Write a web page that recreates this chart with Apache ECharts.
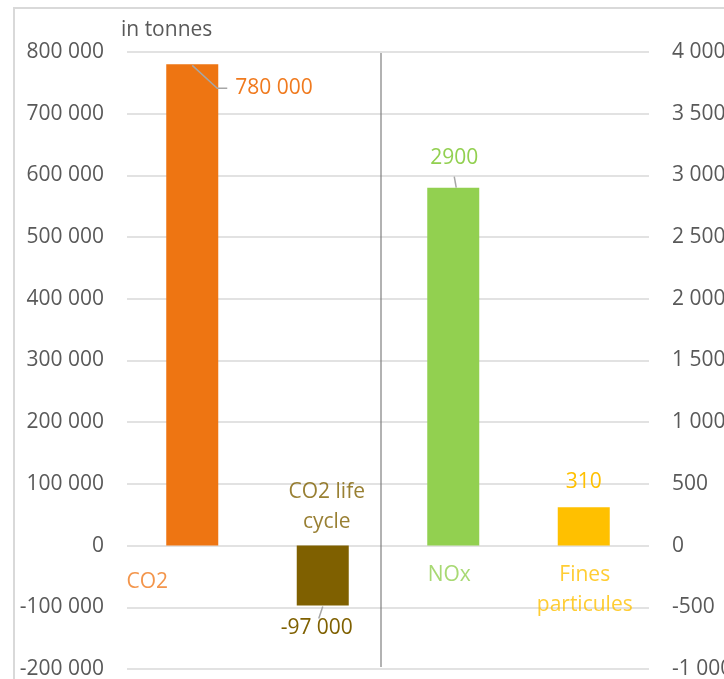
<!DOCTYPE html>
<html>
<head>
<meta charset="utf-8">
<script src="https://cdn.jsdelivr.net/npm/echarts@6/dist/echarts.min.js"></script>
<style>
  html, body { margin: 0; padding: 0; background: #ffffff; }
  #chart { width: 724px; height: 679px; }
</style>
</head>
<body>
<div id="chart"></div>
<script>
// Emissions, in tonnes: CO2 figures on the left scale, pollutants on the right scale
const categories = ['CO2', 'CO2 life cycle', 'NOx', 'Fines particules'];
const co2Values = [780000, -97000, null, null];       // left axis
const pollutantValues = [null, null, 2900, 310];      // right axis
const barColors = ['#EE7512', '#7F6000', '#92D050', '#FFC000'];
const labelColors = ['#F07A1E', '#7F6000', '#92D050', '#FFC000'];
const leftTicks = { min: -200000, max: 800000, interval: 100000 };
const rightTicks = { min: -1000, max: 4000, interval: 500 };

const FONT = '"Open Sans", "Liberation Sans", sans-serif';
const FS = 21;

function spaced(v) {
  const s = String(Math.abs(v)).replace(/\B(?=(\d{3})+(?!\d))/g, ' ');
  return (v < 0 ? '-' : '') + s;
}

// value label placement relative to each bar's rectangle
const valueLabelPos = [
  { position: [69, 24], align: 'left' },
  { position: [20, 82], align: 'center' },
  { position: [27, -30], align: 'center' },
  { position: [26, -25], align: 'center' }
];
// category name placement relative to the zero line at each category
const nameLabelOffset = [[-45, 36], [4, -39], [-4, 29], [1, 44]];

function barData(values) {
  return values.map((v, i) => v == null ? '-' : {
    value: v,
    itemStyle: { color: barColors[i] },
    label: {
      show: true,
      position: valueLabelPos[i].position,
      align: valueLabelPos[i].align,
      verticalAlign: 'middle',
      color: labelColors[i]
    }
  });
}

const nameData = categories.map((c, i) => ({
  value: [i, 0],
  label: {
    show: true,
    position: 'inside',
    offset: nameLabelOffset[i],
    formatter: i === 1 ? 'CO2 life\ncycle' : (i === 3 ? 'Fines\nparticules' : c),
    color: labelColors[i],
    align: 'center',
    verticalAlign: 'middle',
    lineHeight: 30
  }
}));

const chart = echarts.init(document.getElementById('chart'), null, { renderer: 'canvas' });

const option = {
  backgroundColor: '#ffffff',
  animation: false,
  textStyle: { fontFamily: FONT },
  title: {
    text: 'in tonnes',
    left: 121, top: 20, padding: 0,
    textStyle: { fontFamily: FONT, fontSize: FS, fontWeight: 'normal', color: '#595959' }
  },
  grid: { left: 127, right: 75, top: 52, bottom: 10, containLabel: false, outerBoundsMode: 'none' },
  xAxis: {
    type: 'category',
    data: categories,
    axisLine: { show: false },
    axisTick: { show: false },
    axisLabel: { show: false },
    splitLine: { show: false }
  },
  yAxis: [
    {
      type: 'value',
      min: leftTicks.min, max: leftTicks.max, interval: leftTicks.interval,
      axisLine: { show: false }, axisTick: { show: false },
      axisLabel: { margin: 23, color: '#595959', fontSize: FS, fontFamily: FONT, formatter: spaced },
      splitLine: { show: true, lineStyle: { color: '#d9d9d9', width: 1.5 } }
    },
    {
      type: 'value',
      position: 'right',
      min: rightTicks.min, max: rightTicks.max, interval: rightTicks.interval,
      axisLine: { show: false }, axisTick: { show: false },
      axisLabel: { margin: 23, color: '#595959', fontSize: FS, fontFamily: FONT, formatter: spaced },
      splitLine: { show: false }
    }
  ],
  series: [
    {
      type: 'bar', yAxisIndex: 0, barWidth: 52, barGap: '-100%',
      data: barData(co2Values),
      label: { fontSize: FS, fontFamily: FONT, formatter: p => spaced(p.value) }
    },
    {
      type: 'bar', yAxisIndex: 1, barWidth: 52, barGap: '-100%',
      data: barData(pollutantValues),
      label: { fontSize: FS, fontFamily: FONT, formatter: p => String(p.value) }
    },
    {
      type: 'scatter', yAxisIndex: 0, symbolSize: 1, silent: true,
      itemStyle: { color: 'rgba(0,0,0,0)' },
      label: { fontSize: FS, fontFamily: FONT },
      data: nameData
    }
  ]
};
chart.setOption(option);

// leader lines from bar ends to their value labels, plus frame and divider
function px(axisIdx, cat, v) {
  return chart.convertToPixel({ xAxisIndex: 0, yAxisIndex: axisIdx }, [cat, v]);
}
const pCO2 = px(0, 0, co2Values[0]);
const pLife = px(0, 1, co2Values[1]);
const pNOx = px(1, 2, pollutantValues[2]);
const leader = { stroke: '#a6a6a6', lineWidth: 1.5, fill: null };

chart.setOption({
  graphic: [
    { type: 'rect', z: -1, silent: true, shape: { x: 14, y: 8, width: 760, height: 720 },
      style: { fill: null, stroke: '#d9d9d9', lineWidth: 2 } },
    { type: 'line', z: 10, silent: true, shape: { x1: 381, y1: 53, x2: 381, y2: 667 },
      style: { stroke: '#7f7f7f', lineWidth: 1.2 } },
    { type: 'polyline', z: 10, silent: true,
      shape: { points: [[pCO2[0], pCO2[1] + 1], [pCO2[0] + 25, pCO2[1] + 24], [pCO2[0] + 35, pCO2[1] + 24]] },
      style: leader },
    { type: 'polyline', z: 10, silent: true,
      shape: { points: [[pLife[0], pLife[1] + 1], [pLife[0] - 4, pLife[1] + 13]] },
      style: leader },
    { type: 'polyline', z: 10, silent: true,
      shape: { points: [[pNOx[0] + 3, pNOx[1]], [pNOx[0] + 1, pNOx[1] - 11]] },
      style: leader }
  ]
});
</script>
</body>
</html>
